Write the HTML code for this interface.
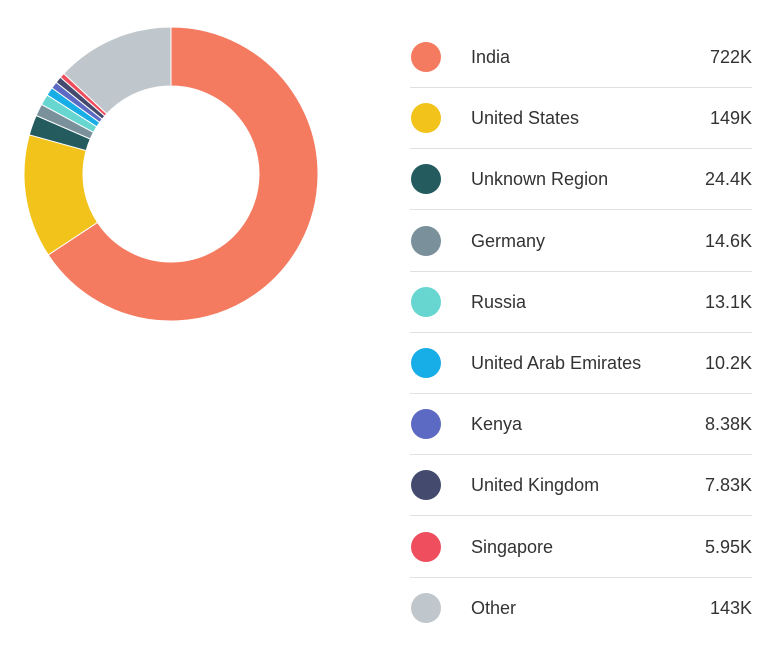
<!DOCTYPE html>
<html><head><meta charset="utf-8"><style>
body{margin:0;width:768px;height:655px;background:#fff;font-family:"Liberation Sans",sans-serif;overflow:hidden;position:relative}
.row{position:absolute;left:410px;width:342px;height:61px;border-bottom:1px solid #e0e0e0;box-sizing:border-box}
.row .dot{position:absolute;left:1px;top:15px;width:30px;height:30px;border-radius:50%}
.row .lbl{position:absolute;left:61px;top:20px;font-size:18px;color:#333}
.row .val{position:absolute;right:0;top:20px;font-size:18px;color:#333}
</style></head><body>
<svg id="chart" width="360" height="360" style="position:absolute;left:0;top:0"></svg>
<div id="legend"></div>
<script>
const categories=["India","United States","Unknown Region","Germany","Russia","United Arab Emirates","Kenya","United Kingdom","Singapore","Other"];
const values=[722,149,24.4,14.6,13.1,10.2,8.38,7.83,5.95,143];
const valueLabels=["722K","149K","24.4K","14.6K","13.1K","10.2K","8.38K","7.83K","5.95K","143K"];
const colors=["#f47a60","#f2c31b","#235b5f","#7a919c","#68d6d0","#17ade6","#5d6ac4","#434a6e","#ee4e5e","#bfc7cc"];
const cx=171,cy=174,R=147,r=88;
const svg=document.getElementById('chart');
const total=values.reduce((a,b)=>a+b,0);
let a0=0;
function pt(a,rad){return [cx+rad*Math.sin(a),cy-rad*Math.cos(a)];}
values.forEach((v,i)=>{
  const a1=a0+v/total*2*Math.PI;
  const large=(a1-a0)>Math.PI?1:0;
  const [x0,y0]=pt(a0,R),[x1,y1]=pt(a1,R),[x2,y2]=pt(a1,r),[x3,y3]=pt(a0,r);
  const p=document.createElementNS('http://www.w3.org/2000/svg','path');
  p.setAttribute('d',`M${x0},${y0}A${R},${R} 0 ${large} 1 ${x1},${y1}L${x2},${y2}A${r},${r} 0 ${large} 0 ${x3},${y3}Z`);
  p.setAttribute('fill',colors[i]);
  p.setAttribute('stroke','#fff');
  p.setAttribute('stroke-width','1');
  
  
  svg.appendChild(p);
  a0=a1;
});
const lg=document.getElementById('legend');
categories.forEach((c,i)=>{
  const row=document.createElement('div');
  row.className='row';
  row.style.top=(27+i*61.2)+'px';
  if(i===categories.length-1)row.style.borderBottom='none';
  
  
  row.innerHTML=`<div class="dot" style="background:${colors[i]}"></div><div class="lbl">${c}</div><div class="val">${valueLabels[i]}</div>`;
  lg.appendChild(row);
});
</script>
</body></html>
